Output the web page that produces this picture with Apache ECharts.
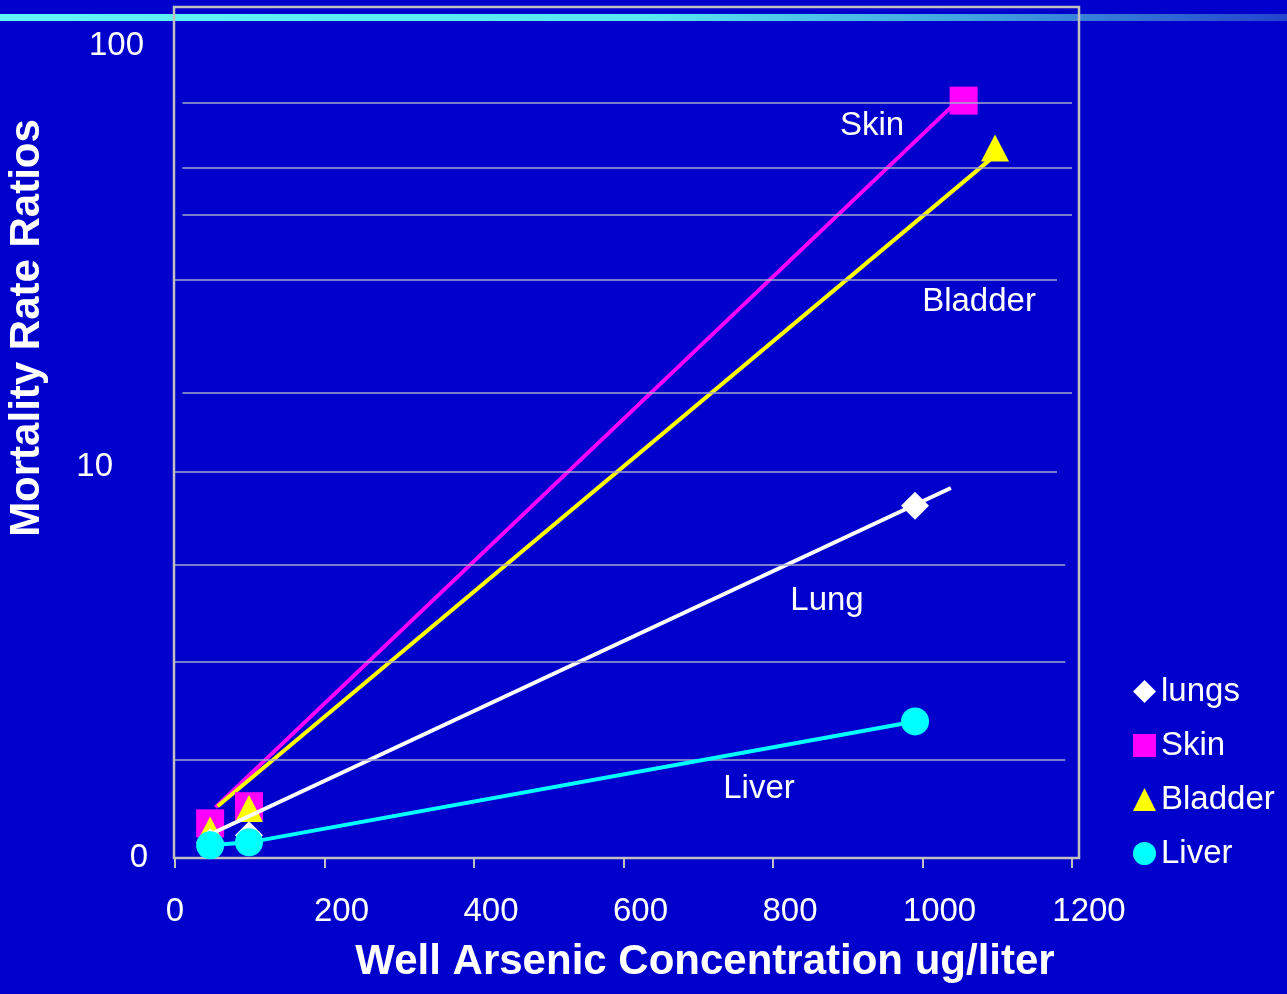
<!DOCTYPE html>
<html>
<head>
<meta charset="utf-8">
<title>Arsenic mortality</title>
<script src="https://cdn.jsdelivr.net/npm/echarts@6/dist/echarts.min.js"></script>
<style>
  html, body { margin: 0; padding: 0; background: #0000cc; }
  #chart { width: 1287px; height: 994px; }
</style>
</head>
<body>
<div id="chart"></div>
<script>
// marker values: [concentration ug/l, mortality rate ratio]
const skinPoints = [[47, 1.42], [99, 1.56], [1055, 74.0]];
const bladderPoints = [[47, 1.37], [99, 1.54], [1097, 57.1]];
const lungsPoints = [[47, 1.28], [99, 1.33], [990, 8.07]];
const liverPoints = [[47, 1.26], [99, 1.28], [990, 2.48]];

// fitted lines drawn separately from the markers
const skinTrend = [[54, 1.55], [1044, 73.0]];
const bladderTrend = [[57, 1.56], [1090, 53.5]];
const lungTrend = [[48, 1.34], [1038, 8.89]];

const xTicks = [0, 200, 400, 600, 800, 1000, 1200];
const yTickLabels = { 10: '10', 100: '100' };
const yMinLabel = '0';
const gridValues = [73.0, 51.2, 39.6, 27.7, 15.0, 9.70, 5.83, 3.43, 2.01];

const FONT = '"Liberation Sans", Arial, sans-serif';
const WHITE = '#ffffff';
const GRID_COLOR = '#a6a6cc';

const chart = echarts.init(document.getElementById('chart'));

// the gridlines in the original are slightly offset from each other
const gridSpans = [[10, 1200], [10, 1200], [10, 1200], [0, 1180], [10, 1200], [0, 1180], [0, 1191], [0, 1191], [0, 1191]];
const gridLines = gridValues.map((v, i) => [
  { coord: [gridSpans[i][0], v] },
  { coord: [gridSpans[i][1], v] }
]);

const labelText = { color: WHITE, fontSize: 33, fontFamily: FONT };

const option = {
  backgroundColor: '#0000cc',
  animation: false,
  textStyle: { fontFamily: FONT },
  grid: { left: 175, right: 215, top: 8, bottom: 136 },
  legend: {
    orient: 'vertical',
    left: 1128,
    top: 670,
    itemWidth: 23,
    itemHeight: 23,
    itemGap: 21,
    textStyle: { color: WHITE, fontSize: 33, fontFamily: FONT },
    data: [
      { name: 'lungs', icon: 'diamond' },
      { name: 'Skin', icon: 'rect' },
      { name: 'Bladder', icon: 'triangle' },
      { name: 'Liver', icon: 'circle' }
    ]
  },
  xAxis: {
    type: 'value',
    min: xTicks[0],
    max: xTicks[xTicks.length - 1],
    interval: 200,
    axisLine: { show: true, lineStyle: { color: '#c0c0c0', width: 2 } },
    axisTick: { show: true, length: 10, lineStyle: { color: '#c0c0c0', width: 2 } },
    axisLabel: {
      color: WHITE,
      fontSize: 33,
      margin: 37,
      fontFamily: FONT,
      // labels in the original sit a little right of their ticks, except 0
      formatter: (v) => (v === 0 ? '{z|0}' : '{n|' + v + '}'),
      rich: {
        z: labelText,
        n: Object.assign({ padding: [0, 0, 0, 34] }, labelText)
      }
    },
    splitLine: { show: false }
  },
  yAxis: {
    type: 'log',
    logBase: 10,
    min: 1.175,
    max: 122.8,
    axisLine: { show: false },
    axisTick: { show: false },
    splitLine: { show: false },
    axisLabel: {
      color: WHITE,
      fontSize: 33,
      margin: 27,
      fontFamily: FONT,
      showMinLabel: true,
      showMaxLabel: false,
      formatter: (v) => {
        const r = Math.round(v);
        if (r === 100 && Math.abs(v - r) < 0.01) return '{h|' + yTickLabels[r] + '}';
        if (r === 10 && Math.abs(v - r) < 0.01) return '{t|' + yTickLabels[r] + '}';
        if (v < 2) return '{z|' + yMinLabel + '}';
        return '';
      },
      rich: {
        h: Object.assign({ padding: [0, 4, 0, 0] }, labelText),
        t: Object.assign({ padding: [0, 35, 0, 0] }, labelText),
        z: labelText
      }
    }
  },
  graphic: [
    {
      type: 'rect',
      shape: { x: 0, y: 14, width: 1287, height: 7 },
      style: {
        fill: new echarts.graphic.LinearGradient(0, 0, 1, 0, [
          { offset: 0, color: '#60f6f6' },
          { offset: 0.5, color: '#58e6f2' },
          { offset: 0.75, color: '#42a4e0' },
          { offset: 1, color: '#2444cc' }
        ])
      }
    },
    {
      type: 'rect',
      shape: { x: 174, y: 7, width: 905, height: 851 },
      style: { fill: 'none', stroke: '#c0c0c0', lineWidth: 2.5 }
    },
    {
      type: 'text', x: 27, y: 328, rotation: Math.PI / 2,
      style: { text: 'Mortality Rate Ratios', fill: WHITE, font: 'bold 42px ' + FONT, textAlign: 'center', textVerticalAlign: 'middle' }
    },
    {
      type: 'text', x: 705, y: 962,
      style: { text: 'Well Arsenic Concentration ug/liter', fill: WHITE, font: 'bold 42px ' + FONT, textAlign: 'center', textVerticalAlign: 'middle' }
    },
    { type: 'text', x: 872, y: 126, style: { text: 'Skin', fill: WHITE, font: '33px ' + FONT, textAlign: 'center', textVerticalAlign: 'middle' } },
    { type: 'text', x: 979, y: 302, style: { text: 'Bladder', fill: WHITE, font: '33px ' + FONT, textAlign: 'center', textVerticalAlign: 'middle' } },
    { type: 'text', x: 827, y: 601, style: { text: 'Lung', fill: WHITE, font: '33px ' + FONT, textAlign: 'center', textVerticalAlign: 'middle' } },
    { type: 'text', x: 759, y: 789, style: { text: 'Liver', fill: WHITE, font: '33px ' + FONT, textAlign: 'center', textVerticalAlign: 'middle' } }
  ],
  series: [
    {
      name: 'grid',
      type: 'line',
      data: [],
      clip: false,
      silent: true,
      markLine: {
        symbol: 'none',
        silent: true,
        label: { show: false },
        lineStyle: { color: GRID_COLOR, width: 1.5, type: 'solid' },
        data: gridLines
      }
    },
    {
      name: 'Skin',
      type: 'scatter',
      symbol: 'rect',
      symbolSize: 28,
      itemStyle: { color: '#ff00ff', opacity: 1 },
      data: skinPoints,
      z: 2
    },
    {
      name: 'Bladder',
      type: 'scatter',
      symbol: 'triangle',
      symbolSize: [28, 27],
      itemStyle: { color: '#ffff00', opacity: 1 },
      data: bladderPoints,
      z: 3
    },
    {
      name: 'skinTrend', type: 'line', data: skinTrend, showSymbol: false, symbol: 'none',
      lineStyle: { color: '#ff00ff', width: 4 }, z: 1
    },
    {
      name: 'bladderTrend', type: 'line', data: bladderTrend, showSymbol: false, symbol: 'none',
      lineStyle: { color: '#ffff00', width: 4 }, z: 1
    },
    {
      name: 'lungTrend', type: 'line', data: lungTrend, showSymbol: false, symbol: 'none',
      lineStyle: { color: '#ffffff', width: 4 }, z: 4
    },
    {
      name: 'lungs',
      type: 'scatter',
      symbol: 'diamond',
      symbolSize: 28,
      itemStyle: { color: '#ffffff', opacity: 1 },
      data: lungsPoints,
      z: 5
    },
    {
      name: 'Liver',
      type: 'line',
      symbol: 'circle',
      symbolSize: 28,
      showSymbol: true,
      showAllSymbol: true,
      itemStyle: { color: '#00ffff', opacity: 1, borderWidth: 0 },
      lineStyle: { color: '#00ffff', width: 4 },
      data: liverPoints,
      z: 6
    }
  ]
};

chart.setOption(option);
</script>
</body>
</html>
